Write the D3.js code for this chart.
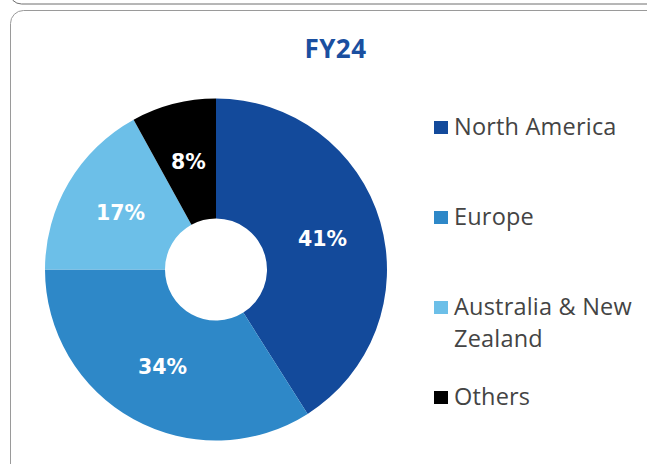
<!DOCTYPE html>
<html>
<head>
<meta charset="utf-8">
<script src="https://cdn.jsdelivr.net/npm/d3@7"></script>
<style>
  html, body { margin: 0; padding: 0; background: #fff; }
  svg { display: block; }
</style>
</head>
<body>
<svg id="chart" width="647" height="464"></svg>
<script>
// Revenue split by region, FY24
const title = "FY24";
const regions = ["North America", "Europe", "Australia & New Zealand", "Others"];
const shares = [41, 34, 17, 8];
const colors = ["#134a9b", "#2e88c8", "#6cbfe8", "#000000"];
// legend text broken over lines
const legendLines = [["North America"], ["Europe"], ["Australia & New", "Zealand"], ["Others"]];

const svg = d3.select("#chart");
const FONT = "'Open Sans', Lato, sans-serif";

// card outlines
svg.append("rect")
  .attr("x", 9.5).attr("y", -30).attr("width", 700).attr("height", 34)
  .attr("rx", 12).attr("fill", "none").attr("stroke", "#6f6f6f").attr("stroke-width", 1);
svg.append("rect")
  .attr("x", 10.5).attr("y", 10.5).attr("width", 700).attr("height", 500)
  .attr("rx", 13).attr("fill", "#fff").attr("stroke", "#9a9a9a").attr("stroke-width", 1);

svg.append("text")
  .attr("x", 335.5).attr("y", 58)
  .attr("text-anchor", "middle")
  .attr("font-family", FONT)
  .attr("font-weight", 700)
  .attr("font-size", 26)
  .attr("letter-spacing", 0.5)
  .attr("fill", "#1a4fa0")
  .text(title);

const cx = 216, cy = 269.5, rOuter = 171, rInner = 51;
const data = regions.map((r, i) => ({ region: r, value: shares[i], color: colors[i] }));

const pie = d3.pie().sort(null).value(d => d.value);
const arc = d3.arc().innerRadius(rInner).outerRadius(rOuter);
const arcs = pie(data);

const g = svg.append("g").attr("transform", `translate(${cx},${cy})`);
g.selectAll("path.slice")
  .data(arcs)
  .join("path")
  .attr("class", "slice")
  .attr("d", arc)
  .attr("fill", d => d.data.color);

g.selectAll("text.pct")
  .data(arcs)
  .join("text")
  .attr("class", "pct")
  .attr("transform", d => `translate(${arc.centroid(d)})`)
  .attr("text-anchor", "middle")
  .attr("dy", "0.36em")
  .attr("font-family", "'DejaVu Sans', sans-serif")
  .attr("font-weight", 700)
  .attr("font-size", 20.5)
  .attr("fill", "#fff")
  .text(d => d.data.value + "%");

// legend
const legendY = [135, 225, 315, 405];
const legend = svg.append("g");
data.forEach((d, i) => {
  const y = legendY[i];
  legend.append("rect")
    .attr("x", 434).attr("y", y - 14).attr("width", 14).attr("height", 13)
    .attr("fill", d.color);
  const t = legend.append("text")
    .attr("x", 454).attr("y", y)
    .attr("font-family", FONT)
    .attr("font-size", 23.5)
    .attr("letter-spacing", 0.2)
    .attr("fill", "#444");
  legendLines[i].forEach((line, k) => {
    t.append("tspan").attr("x", 454).attr("y", y + k * 32).text(line);
  });
});
</script>
</body>
</html>
